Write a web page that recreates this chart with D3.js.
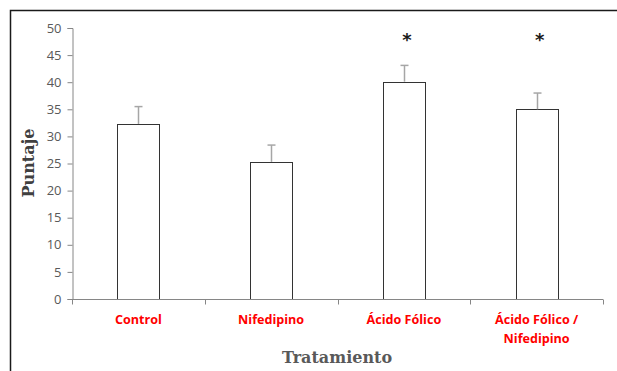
<!DOCTYPE html>
<html>
<head>
<meta charset="utf-8">
<script src="https://cdn.jsdelivr.net/npm/d3@7"></script>
<style>
  html, body { margin: 0; padding: 0; background: #fff; }
  svg { display: block; }
</style>
</head>
<body>
<svg id="chart" width="617" height="371"></svg>
<script>
// Treatment groups and mean scores with their error (upper bar)
const categories = ["Control", "Nifedipino", "Ácido Fólico", "Ácido Fólico / Nifedipino"];
const categoryLines = [["Control"], ["Nifedipino"], ["Ácido Fólico"], ["Ácido Fólico /", "Nifedipino"]];
const means = [32.3, 25.3, 40.1, 35.0];
const errors = [3.2, 3.1, 3.0, 3.0];
const significant = [false, false, true, true];
const yTicks = [0, 5, 10, 15, 20, 25, 30, 35, 40, 45, 50];

const svg = d3.select("#chart");

// Outer frame (left and top edges)
svg.append("path")
  .attr("d", "M10.5,371 V10.5 H617")
  .attr("fill", "none")
  .attr("stroke", "#1a1a1a")
  .attr("stroke-width", 1.5);

const x = d3.scaleBand()
  .domain(categories)
  .range([72, 603])
  .paddingInner(0)
  .paddingOuter(0);

const y = d3.scaleLinear().domain([0, 50]).range([299, 28]);

const barW = x.bandwidth() * 0.316;

// Y axis
const yAxis = svg.append("g")
  .attr("transform", "translate(72.5,0)")
  .call(d3.axisLeft(y).tickValues(yTicks).tickSize(5).tickPadding(6));
yAxis.select(".domain").attr("stroke", "#868686");
yAxis.selectAll(".tick line").attr("stroke", "#868686");
yAxis.selectAll(".tick text")
  .attr("fill", "#595959")
  .style("font-family", "'Open Sans', 'DejaVu Sans', sans-serif")
  .style("font-size", "13px");

// Bars
svg.append("g").selectAll("rect")
  .data(categories)
  .join("rect")
  .attr("x", (d) => Math.round(x(d) + x.bandwidth() / 2 - barW / 2) + 0.5)
  .attr("y", (d, i) => Math.round(y(means[i])) + 0.5)
  .attr("width", Math.round(barW))
  .attr("height", (d, i) => Math.round(y(0)) - Math.round(y(means[i])))
  .attr("fill", "#fff")
  .attr("stroke", "#333")
  .attr("stroke-width", 1);

// Error bars (upper only)
const eb = svg.append("g").attr("stroke", "#a6a6a6").attr("stroke-width", 1.5);
categories.forEach((d, i) => {
  const cx = Math.round(x(d) + x.bandwidth() / 2) + 0.5;
  eb.append("line")
    .attr("x1", cx).attr("x2", cx)
    .attr("y1", y(means[i])).attr("y2", y(means[i] + errors[i]));
  eb.append("line")
    .attr("x1", cx - 4).attr("x2", cx + 4)
    .attr("y1", y(means[i] + errors[i])).attr("y2", y(means[i] + errors[i]));
});

// X axis
const xAxis = svg.append("g")
  .attr("transform", "translate(0,299.5)")
  .call(d3.axisBottom(x).tickSize(0).tickFormat(""));
xAxis.select(".domain").attr("stroke", "#868686").attr("d", "M72,0H603");
xAxis.selectAll(".tick").remove();
// Category boundary ticks
const bounds = categories.map((d) => x(d)).concat([x.range()[1]]);
xAxis.selectAll("line.sep")
  .data(bounds)
  .join("line")
  .attr("class", "sep")
  .attr("x1", (d) => Math.round(d) + 0.5).attr("x2", (d) => Math.round(d) + 0.5)
  .attr("y1", 0).attr("y2", 5)
  .attr("stroke", "#868686");

// Category labels
const labels = svg.append("g")
  .attr("fill", "#ff0000")
  .style("font-family", "'Open Sans', 'Liberation Sans', sans-serif")
  .style("font-weight", "bold")
  .style("font-size", "12.6px")
  .attr("text-anchor", "middle");
categories.forEach((d, i) => {
  const t = labels.append("text")
    .attr("x", x(d) + x.bandwidth() / 2)
    .attr("y", 324);
  categoryLines[i].forEach((line, j) => {
    t.append("tspan")
      .attr("x", x(d) + x.bandwidth() / 2)
      .attr("dy", j === 0 ? 0 : 19)
      .text(line);
  });
});

// Significance markers
svg.append("g").selectAll("text")
  .data(categories.filter((d, i) => significant[i]))
  .join("text")
  .attr("x", (d) => x(d) + x.bandwidth() / 2 + 3)
  .attr("y", 46)
  .attr("text-anchor", "middle")
  .attr("fill", "#1a1a1a")
  .style("font-family", "'DejaVu Sans', sans-serif")
  .style("font-weight", "bold")
  .style("font-size", "18px")
  .text("*");

// Axis titles
svg.append("text")
  .attr("x", 337)
  .attr("y", 363)
  .attr("text-anchor", "middle")
  .attr("fill", "#595959")
  .style("font-family", "'DejaVu Serif', 'Liberation Serif', serif")
  .style("font-weight", "bold")
  .style("font-size", "16px")
  .text("Tratamiento");

svg.append("text")
  .attr("transform", "translate(34,163) rotate(-90)")
  .attr("text-anchor", "middle")
  .attr("fill", "#404040")
  .style("font-family", "'DejaVu Serif', 'Liberation Serif', serif")
  .style("font-weight", "bold")
  .style("font-size", "16px")
  .text("Puntaje");
</script>
</body>
</html>
